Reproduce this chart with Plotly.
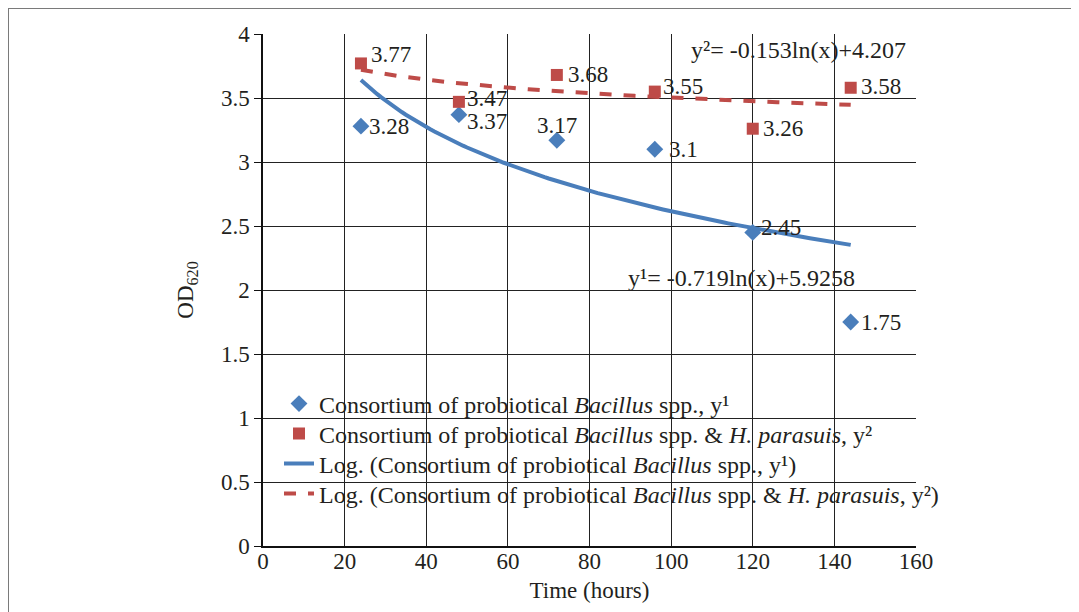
import numpy as np
import plotly.graph_objects as go

# ---- data ----
time_h = [24, 48, 72, 96, 120, 144]
od_bacillus = [3.28, 3.37, 3.17, 3.1, 2.45, 1.75]
od_bacillus_hp = [3.77, 3.47, 3.68, 3.55, 3.26, 3.58]
trend1_coef = [-0.719, 5.9258]   # y1 = a*ln(x) + b
trend2_coef = [-0.153, 4.207]    # y2 = a*ln(x) + b
x_ticks = [0, 20, 40, 60, 80, 100, 120, 140, 160]
y_ticks = [0, 0.5, 1, 1.5, 2, 2.5, 3, 3.5, 4]

name1 = "Consortium of probiotical <i>Bacillus</i> spp., y¹"
name2 = "Consortium of probiotical <i>Bacillus</i> spp. &amp; <i>H. parasuis</i>, y²"
name3 = "Log. (Consortium of probiotical <i>Bacillus</i> spp., y¹)"
name4 = "Log. (Consortium of probiotical <i>Bacillus</i> spp. &amp; <i>H. parasuis</i>, y²)"
eq1 = "y¹= -0.719ln(x)+5.9258"
eq2 = "y²= -0.153ln(x)+4.207"

BLUE = "#4a7ebb"
RED = "#be4b48"
FONT = "Liberation Serif, Times New Roman, serif"
TXT = "#231f20"

# label placement (style): anchor, x shift, y shift in pixels
lab1 = [("left", 6, 0), ("left", 6, -7), ("center", 0, 15), ("left", 12, 0), ("left", 6, 5), ("left", 8, 0)]
lab2 = [("left", 8, 9), ("left", 6, 3), ("left", 9, 0), ("left", 6, 5), ("left", 8, 0), ("left", 8, 1)]

xs = np.linspace(min(time_h), max(time_h), 121)
t1 = trend1_coef[0] * np.log(xs) + trend1_coef[1]
t2 = trend2_coef[0] * np.log(xs) + trend2_coef[1]

fig = go.Figure()
fig.add_trace(go.Scatter(
    x=time_h, y=od_bacillus, mode="markers", name=name1, legend="legend",
    marker=dict(symbol="diamond", size=13, color=BLUE), cliponaxis=False))
fig.add_trace(go.Scatter(
    x=time_h, y=od_bacillus_hp, mode="markers", name=name2, legend="legend2",
    marker=dict(symbol="square", size=12, color=RED), cliponaxis=False))
fig.add_trace(go.Scatter(x=xs, y=t1, mode="lines", name=name3, legend="legend3",
                         line=dict(color=BLUE, width=4)))
fig.add_trace(go.Scatter(x=xs, y=t2, mode="lines", name=name4, legend="legend4",
                         line=dict(color=RED, width=4, dash="dash")))

annotations = []
for xv, yv, (anc, dx, dy) in zip(time_h, od_bacillus, lab1):
    annotations.append(dict(x=xv, y=yv, xref="x", yref="y", text=str(yv), showarrow=False,
                            xanchor=anc, yanchor="middle", xshift=dx, yshift=dy,
                            font=dict(family=FONT, size=23, color=TXT)))
for xv, yv, (anc, dx, dy) in zip(time_h, od_bacillus_hp, lab2):
    annotations.append(dict(x=xv, y=yv, xref="x", yref="y", text=str(yv), showarrow=False,
                            xanchor=anc, yanchor="middle", xshift=dx, yshift=dy,
                            font=dict(family=FONT, size=23, color=TXT)))

W, H = 1079, 612
OFF = 8  # page body margin in the browser
L, T = 263 - OFF, 34 - OFF
pw, ph = 653, 512
R, B = W - L - pw, H - T - ph


def px(sx):
    return (sx - OFF - L) / pw


def py(sy):
    return (H - B - (sy - OFF)) / ph


def dx_(sx):
    return (sx - 263) / pw * 160


def dy_(sy):
    return (546 - sy) / ph * 4


annotations.append(dict(text=eq2, x=dx_(908), y=dy_(50), xref="x", yref="y", xanchor="right",
                        yanchor="middle", showarrow=False, font=dict(family=FONT, size=24, color=TXT)))
annotations.append(dict(text=eq1, x=dx_(741), y=dy_(278), xref="x", yref="y", xanchor="center",
                        yanchor="middle", showarrow=False, font=dict(family=FONT, size=24, color=TXT)))


def leg(row_y):
    return dict(x=px(279), y=py(row_y), xanchor="left", yanchor="middle",
                bgcolor="rgba(0,0,0,0)", font=dict(family=FONT, size=24, color=TXT),
                borderwidth=0)


fig.update_layout(
    width=W, height=H,
    margin=dict(l=L, r=R, t=T, b=B, pad=0, autoexpand=False),
    paper_bgcolor="white", plot_bgcolor="white",
    font=dict(family=FONT, size=23, color=TXT),
    showlegend=True,
    legend=leg(404), legend2=leg(434), legend3=leg(464), legend4=leg(494),
    xaxis=dict(range=[0, 160], tickvals=x_ticks, showgrid=True, gridcolor="#222",
               gridwidth=1, showline=True, linecolor="#111", linewidth=1.5,
               ticks="", zeroline=False, mirror=False, ticklabelstandoff=-6,
               title=dict(text="Time (hours)", font=dict(family=FONT, size=23, color=TXT), standoff=9),
               tickfont=dict(family=FONT, size=23, color=TXT)),
    yaxis=dict(range=[0, 4], tickvals=y_ticks, showgrid=True, gridcolor="#222",
               gridwidth=1, showline=True, linecolor="#111", linewidth=1.5,
               ticks="outside", ticklen=7, tickcolor="#111", zeroline=False,
               title=dict(text="OD<sub>620</sub>", font=dict(family=FONT, size=23, color=TXT), standoff=21),
               tickfont=dict(family=FONT, size=23, color=TXT)),
    annotations=annotations,
    shapes=[
        dict(type="rect", xref="paper", yref="paper", x0=-L / pw, y0=-1, x1=2, y1=(H - B) / ph,
             line=dict(color="#7a7a7a", width=2), fillcolor="rgba(0,0,0,0)", layer="below"),
    ],
)

fig.write_html("out.html")
